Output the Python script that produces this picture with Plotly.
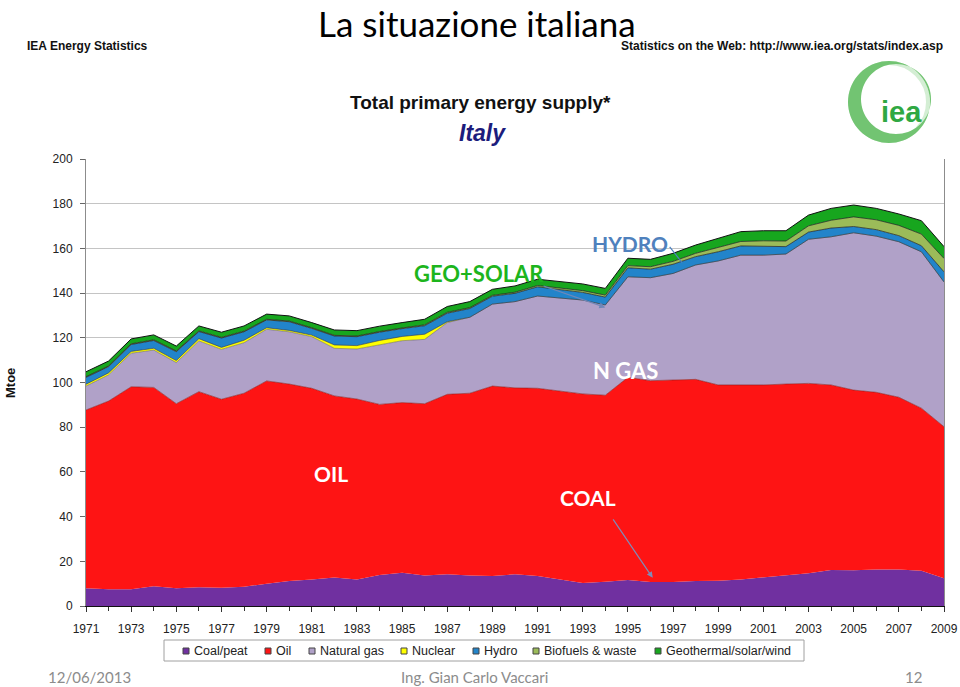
import math
import plotly.graph_objects as go

years = list(range(1971, 2010))

coal = [7.9, 7.5, 7.5, 8.8, 7.9, 8.4, 8.2, 8.6, 10.0, 11.2, 11.9, 12.8, 11.9, 13.9, 14.9, 13.6, 14.2, 13.6, 13.4, 14.2,
        13.4, 11.9, 10.3, 10.9, 11.6, 10.7, 10.7, 11.2, 11.3, 11.9, 12.8, 13.4, 14.6, 16.1, 16.0, 16.3, 16.3, 15.8, 12.4]
oil = [79.8, 84.2, 90.6, 89.0, 82.6, 87.5, 84.3, 86.6, 90.7, 88.1, 85.5, 81.2, 80.7, 76.3, 76.1, 76.9, 80.5, 81.6, 85.0, 83.4,
       84.0, 84.4, 84.6, 83.4, 90.7, 90.1, 90.4, 90.2, 87.6, 87.0, 86.1, 85.9, 85.0, 82.8, 80.6, 79.3, 77.1, 72.7, 67.8]
natural_gas = [10.7, 11.7, 15.0, 16.7, 18.4, 22.7, 22.3, 22.6, 23.1, 23.4, 23.1, 21.3, 22.4, 26.8, 27.7, 28.8, 32.1, 34.0, 36.7, 38.6,
               41.3, 41.5, 42.0, 40.4, 45.0, 46.1, 47.7, 51.2, 55.5, 58.1, 58.1, 58.2, 64.5, 66.3, 70.4, 69.9, 69.6, 70.0, 64.8]
nuclear = [0.8, 0.9, 0.8, 0.8, 0.9, 1.0, 0.9, 1.1, 0.7, 0.6, 0.7, 1.5, 1.5, 1.8, 1.9, 2.3, 0.4, 0.0, 0.0, 0.0,
           0.0, 0.0, 0.0, 0.0, 0.0, 0.0, 0.0, 0.0, 0.0, 0.0, 0.0, 0.0, 0.0, 0.0, 0.0, 0.0, 0.0, 0.0, 0.0]
hydro = [3.1, 2.8, 3.1, 3.5, 4.0, 3.2, 4.2, 3.8, 3.5, 3.9, 3.0, 4.0, 4.0, 3.7, 3.5, 3.8, 3.8, 3.9, 3.5, 3.7,
         4.1, 3.7, 3.4, 3.5, 4.0, 3.8, 4.1, 3.7, 4.1, 4.1, 4.1, 3.3, 3.2, 3.9, 2.8, 2.9, 2.7, 2.7, 4.5]
biofuels = [0.3, 0.3, 0.3, 0.3, 0.3, 0.3, 0.3, 0.3, 0.3, 0.3, 0.3, 0.3, 0.3, 0.3, 0.3, 0.4, 0.4, 0.4, 0.4, 0.5,
            0.6, 0.7, 0.8, 0.9, 1.0, 1.1, 1.3, 1.5, 1.8, 2.0, 2.3, 2.5, 2.8, 3.5, 4.3, 4.4, 4.6, 5.2, 6.0]
geothermal = [2.2, 2.2, 2.2, 2.2, 2.2, 2.2, 2.3, 2.3, 2.3, 2.3, 2.3, 2.4, 2.4, 2.4, 2.4, 2.5, 2.6, 2.7, 2.7, 2.8,
              2.8, 2.9, 3.0, 3.0, 3.3, 3.3, 3.6, 3.7, 4.2, 4.4, 4.5, 4.6, 4.8, 5.3, 5.3, 5.1, 5.1, 6.0, 5.3]

series_names = ["Coal/peat", "Oil", "Natural gas", "Nuclear", "Hydro", "Biofuels & waste", "Geothermal/solar/wind"]
series_values = [coal, oil, natural_gas, nuclear, hydro, biofuels, geothermal]
fill_colors = ["#7030A0", "#FE1414", "#B0A1C8", "#FFFF00", "#2284CA", "#9BBB59", "#17A61E"]
line_colors = ["rgba(0,0,0,0)", "#8a1a1a", "#555555", "#333333", "#1a1a1a", "#1a1a1a", "#111111"]
line_widths = [0, 0.6, 0.5, 0.6, 0.7, 0.7, 1.0]

fig = go.Figure()
for name, vals, col, lcol, lw in zip(series_names, series_values, fill_colors, line_colors, line_widths):
    fig.add_trace(go.Scatter(x=years, y=vals, name=name, stackgroup="one", mode="lines",
                             fillcolor=col, line=dict(color=lcol, width=lw), showlegend=False,
                             hoverinfo="x+y+name"))

L, R, T, B = 86, 944, 159, 606
W, H = 960, 687

def px(x):
    return (x - L) / (R - L)

def py(y):
    return (B - y) / (B - T)

ann = []
def text(x, y, s, size, color, family, xanchor="center", bold=False, italic=False, yanchor="middle"):
    if bold:
        s = "<b>" + s + "</b>"
    if italic:
        s = "<i>" + s + "</i>"
    ann.append(dict(x=px(x), y=py(y), xref="paper", yref="paper", text=s, showarrow=False,
                    xanchor=xanchor, yanchor=yanchor, font=dict(size=size, color=color, family=family)))

CAL = "Lato, 'Open Sans', sans-serif"
NAR = "'Liberation Sans Narrow', 'Liberation Sans', Arial, sans-serif"
ARI = "'Liberation Sans', Arial, sans-serif"

text(477, 0, "La situazione italiana", 35, "#000000", CAL, yanchor="top")
text(25, 46, "IEA Energy Statistics", 12, "#111111", NAR, xanchor="left", bold=True)
text(945, 46, "Statistics on the Web: http://www.iea.org/stats/index.asp", 12, "#111111", NAR, xanchor="right", bold=True)
text(480, 102, "Total primary energy supply*", 19, "#111111", NAR, bold=True)
text(482, 133, "Italy", 23, "#1c1c7c", NAR, bold=True, italic=True)
text(901, 112, "iea", 29, "#2fa843", ARI, bold=True)
text(10, 383, "Mtoe", 13, "#111111", ARI, bold=True)
ann[-1]["textangle"] = -90

text(89, 677, "12/06/2013", 15, "#8c8c8c", CAL)
text(474, 677, "Ing. Gian Carlo Vaccari", 15, "#8c8c8c", CAL)
text(913, 677, "12", 15, "#8c8c8c", CAL)


# IEA logo: pale ring plus a crescent that is thick on the left side
def ring_path(cx, cy, r, reverse=False, n=72):
    angs = [2 * math.pi * k / n for k in range(n)]
    if reverse:
        angs = angs[::-1]
    pts = ["{:.5f},{:.5f}".format(px(cx + r * math.cos(a)), py(cy + r * math.sin(a))) for a in angs]
    return "M" + " L".join(pts) + " Z"

crescent = ring_path(889, 102, 41) + " " + ring_path(896, 99, 35, reverse=True)

# manual legend (box, square swatches, labels)
legend_sq_x = [183, 265, 309, 401, 473, 533, 655]
shapes = [
    dict(type="circle", xref="paper", yref="paper", x0=px(850), x1=px(928), y0=py(141), y1=py(63),
         line=dict(color="#d4eed4", width=4)),
    dict(type="path", xref="paper", yref="paper", path=crescent, fillcolor="#72c472",
         line=dict(width=0)),
    dict(type="rect", xref="paper", yref="paper", x0=px(164), x1=px(804), y0=py(661), y1=py(640),
         line=dict(color="#a0a0a0", width=1), fillcolor="white"),
]
for sx, name, col in zip(legend_sq_x, series_names, fill_colors):
    shapes.append(dict(type="rect", xref="paper", yref="paper", x0=px(sx), x1=px(sx + 6),
                       y0=py(654), y1=py(648), line=dict(color="#444444", width=1), fillcolor=col))
    text(sx + 9, 651, name, 12.5, "#222222", ARI, xanchor="left")

# chart annotations in data coordinates
def dtext(x, y, s, size, color):
    ann.append(dict(x=x, y=y, xref="x", yref="y", text="<b>" + s + "</b>", showarrow=False,
                    font=dict(size=size, color=color, family=CAL)))

def arrow(x0, y0, x1, y1, color, head=2):
    ann.append(dict(x=x1, y=y1, ax=x0, ay=y0, xref="x", yref="y", axref="x", ayref="y", text="",
                    showarrow=True, arrowhead=head, arrowsize=1, arrowwidth=1.2, arrowcolor=color))

dtext(1988.4, 148.6, "GEO+SOLAR", 22, "#1DB51D")
dtext(1995.1, 162.2, "HYDRO", 21, "#4F81BD")
dtext(1994.9, 105.5, "N GAS", 22, "#FFFFFF")
dtext(1981.85, 59.5, "OIL", 21, "#FFFFFF")
dtext(1993.25, 48.5, "COAL", 21, "#FFFFFF")
arrow(1991.2, 143.4, 1994.0, 133.6, "#6F87B8")
arrow(1996.8, 161.4, 1997.4, 153.6, "#4F81BD", head=0)
arrow(1994.3, 39.4, 1996.1, 12.6, "#7F8CB8")

fig.update_layout(
    width=W, height=H, autosize=False,
    margin=dict(l=L, r=W - R, t=T, b=H - B, autoexpand=False),
    paper_bgcolor="white", plot_bgcolor="white",
    annotations=ann, shapes=shapes,
    showlegend=False,
    xaxis=dict(range=[1971, 2009], tick0=1971, dtick=2, ticks="outside", ticklen=5, tickcolor="#333",
               showline=True, linecolor="#111", linewidth=1, showgrid=False, zeroline=False,
               ticklabelstandoff=7, automargin=False,
               tickfont=dict(size=12, color="#222", family=ARI),
               minor=dict(dtick=1, ticks="outside", ticklen=4, tickcolor="#333")),
    yaxis=dict(range=[0, 200], dtick=20, ticks="outside", ticklen=5, tickcolor="#666",
               showline=True, linecolor="#8c8c8c", linewidth=1, mirror=True,
               showgrid=True, gridcolor="#c4c4c4", gridwidth=1, zeroline=False,
               ticklabelstandoff=5, automargin=False,
               tickfont=dict(size=12, color="#222", family=ARI)),
)

fig.write_html("out.html", config={"responsive": False, "displayModeBar": False},
               default_width="960px", default_height="687px",
               post_script="document.body.style.margin='0px';document.body.style.overflow='hidden';")
